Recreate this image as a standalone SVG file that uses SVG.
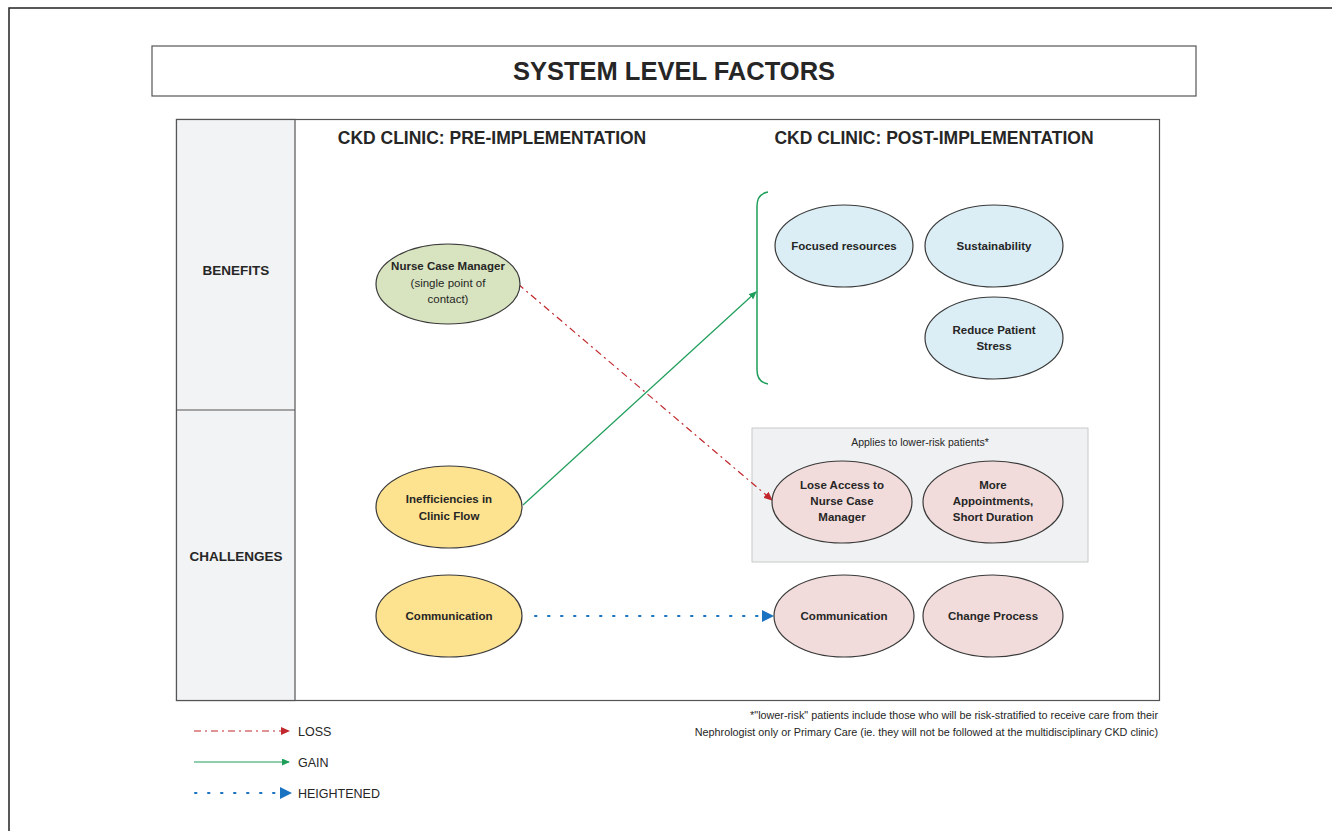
<svg xmlns="http://www.w3.org/2000/svg" width="1332" height="831" viewBox="0 0 1332 831">
<style>
text{font-family:"Liberation Sans",Arial,sans-serif;fill:#262626}
.b{font-weight:bold}
.node{stroke:#3a3a3a;stroke-width:1.2}
.green{fill:#d8e4bf}
.yellow{fill:#fde28f}
.blue{fill:#dbeef5}
.pink{fill:#f2dcdb}
.nt{font-size:11.5px;font-weight:bold;text-anchor:middle}
</style>
<defs>
<marker id="mRed" markerWidth="10" markerHeight="10" refX="8" refY="4" orient="auto" markerUnits="userSpaceOnUse"><path d="M0,0 L9,4 L0,8 Z" fill="#c0282d"/></marker>
<marker id="mGreen" markerWidth="10" markerHeight="10" refX="7" refY="3.5" orient="auto" markerUnits="userSpaceOnUse"><path d="M0,0 L8,3.5 L0,7 Z" fill="#1e9e5a"/></marker>
<marker id="mBlue" markerWidth="14" markerHeight="14" refX="11" refY="6" orient="auto" markerUnits="userSpaceOnUse"><path d="M0,0 L12,6 L0,12 Z" fill="#1a73c1"/></marker>
</defs>
<rect width="1332" height="831" fill="#ffffff"/>
<path d="M9,840 L9,8 L1340,8" fill="none" stroke="#222" stroke-width="1.5"/>

<g id="title">
<rect x="152" y="46" width="1044" height="50" fill="#fff" stroke="#555" stroke-width="1.2"/>
<text x="674" y="80" class="b" font-size="25.5" text-anchor="middle">SYSTEM LEVEL FACTORS</text>
</g>

<g id="frame">
<rect x="176.5" y="119.5" width="983" height="581" fill="#fff" stroke="#555" stroke-width="1.2"/>
<rect x="176.5" y="119.5" width="118.5" height="581" fill="#f2f3f5" stroke="#555" stroke-width="1.2"/>
<line x1="176.5" y1="410" x2="295" y2="410" stroke="#555" stroke-width="1.2"/>
<text x="236" y="275" class="b" font-size="13.5" text-anchor="middle">BENEFITS</text>
<text x="236" y="561" class="b" font-size="13.5" text-anchor="middle">CHALLENGES</text>
<text x="492" y="144" class="b" font-size="17.5" text-anchor="middle">CKD CLINIC: PRE-IMPLEMENTATION</text>
<text x="934" y="144" class="b" font-size="17.5" text-anchor="middle">CKD CLINIC: POST-IMPLEMENTATION</text>
</g>

<g id="lower-risk-box">
<rect x="752" y="428" width="336" height="134" fill="#f0f1f2" stroke="#c9c9c9" stroke-width="1"/>
<text x="920" y="446" font-size="10.5" text-anchor="middle">Applies to lower-risk patients*</text>
</g>

<g id="connectors" fill="none">
<path d="M768,192 Q757,194 757,206 L757,370 Q757,382 768,384" stroke="#1e9e5a" stroke-width="1.5"/>
<line x1="523" y1="505" x2="756" y2="292" stroke="#1e9e5a" stroke-width="1.2" marker-end="url(#mGreen)"/>
<line x1="518" y1="284" x2="772" y2="500" stroke="#c0282d" stroke-width="1.2" stroke-dasharray="7,4,2,4" marker-end="url(#mRed)"/>
<line x1="535" y1="616" x2="773" y2="616" stroke="#1a73c1" stroke-width="2" stroke-dasharray="1.5,11.5" stroke-linecap="round" marker-end="url(#mBlue)"/>
</g>

<g id="nurse-case-manager">
<ellipse cx="448" cy="284" rx="72" ry="40" class="node green"/>
<text x="448" y="270" class="nt">Nurse Case Manager</text>
<text x="448" y="287" font-size="11.5" text-anchor="middle">(single point of</text>
<text x="448" y="303" font-size="11.5" text-anchor="middle">contact)</text>
</g>
<g id="inefficiencies">
<ellipse cx="449" cy="507" rx="73" ry="41" class="node yellow"/>
<text x="449" y="503" class="nt">Inefficiencies in</text>
<text x="449" y="520" class="nt">Clinic Flow</text>
</g>
<g id="communication-pre">
<ellipse cx="449" cy="616" rx="73" ry="41" class="node yellow"/>
<text x="449" y="620" class="nt">Communication</text>
</g>
<g id="focused-resources">
<ellipse cx="844" cy="246" rx="69" ry="41" class="node blue"/>
<text x="844" y="250" class="nt">Focused resources</text>
</g>
<g id="sustainability">
<ellipse cx="994" cy="246" rx="69" ry="41" class="node blue"/>
<text x="994" y="250" class="nt">Sustainability</text>
</g>
<g id="reduce-patient-stress">
<ellipse cx="994" cy="338" rx="69" ry="41" class="node blue"/>
<text x="994" y="334" class="nt">Reduce Patient</text>
<text x="994" y="350" class="nt">Stress</text>
</g>
<g id="lose-access">
<ellipse cx="842" cy="502" rx="70" ry="41" class="node pink"/>
<text x="842" y="489" class="nt">Lose Access to</text>
<text x="842" y="505" class="nt">Nurse Case</text>
<text x="842" y="521" class="nt">Manager</text>
</g>
<g id="more-appointments">
<ellipse cx="993" cy="502" rx="70" ry="41" class="node pink"/>
<text x="993" y="489" class="nt">More</text>
<text x="993" y="505" class="nt">Appointments,</text>
<text x="993" y="521" class="nt">Short Duration</text>
</g>
<g id="communication-post">
<ellipse cx="844" cy="616" rx="70" ry="41" class="node pink"/>
<text x="844" y="620" class="nt">Communication</text>
</g>
<g id="change-process">
<ellipse cx="993" cy="616" rx="70" ry="41" class="node pink"/>
<text x="993" y="620" class="nt">Change Process</text>
</g>

<g id="footnote">
<text x="1158" y="719" font-size="10.8" text-anchor="end">*"lower-risk" patients include those who will be risk-stratified to receive care from their</text>
<text x="1158" y="736" font-size="10.8" text-anchor="end">Nephrologist only or Primary Care (ie. they will not be followed at the multidisciplinary CKD clinic)</text>
</g>

<g id="legend">
<line x1="194" y1="731" x2="289" y2="731" stroke="#c0282d" stroke-width="1.2" stroke-dasharray="7,4,2,4" marker-end="url(#mRed)"/>
<text x="298" y="736" font-size="12.5">LOSS</text>
<line x1="194" y1="762" x2="289" y2="762" stroke="#1e9e5a" stroke-width="1.2" marker-end="url(#mGreen)"/>
<text x="298" y="767" font-size="12.5">GAIN</text>
<line x1="195" y1="793" x2="291" y2="793" stroke="#1a73c1" stroke-width="2" stroke-dasharray="1.5,11.5" stroke-linecap="round" marker-end="url(#mBlue)"/>
<text x="298" y="798" font-size="12.5">HEIGHTENED</text>
</g>
</svg>
